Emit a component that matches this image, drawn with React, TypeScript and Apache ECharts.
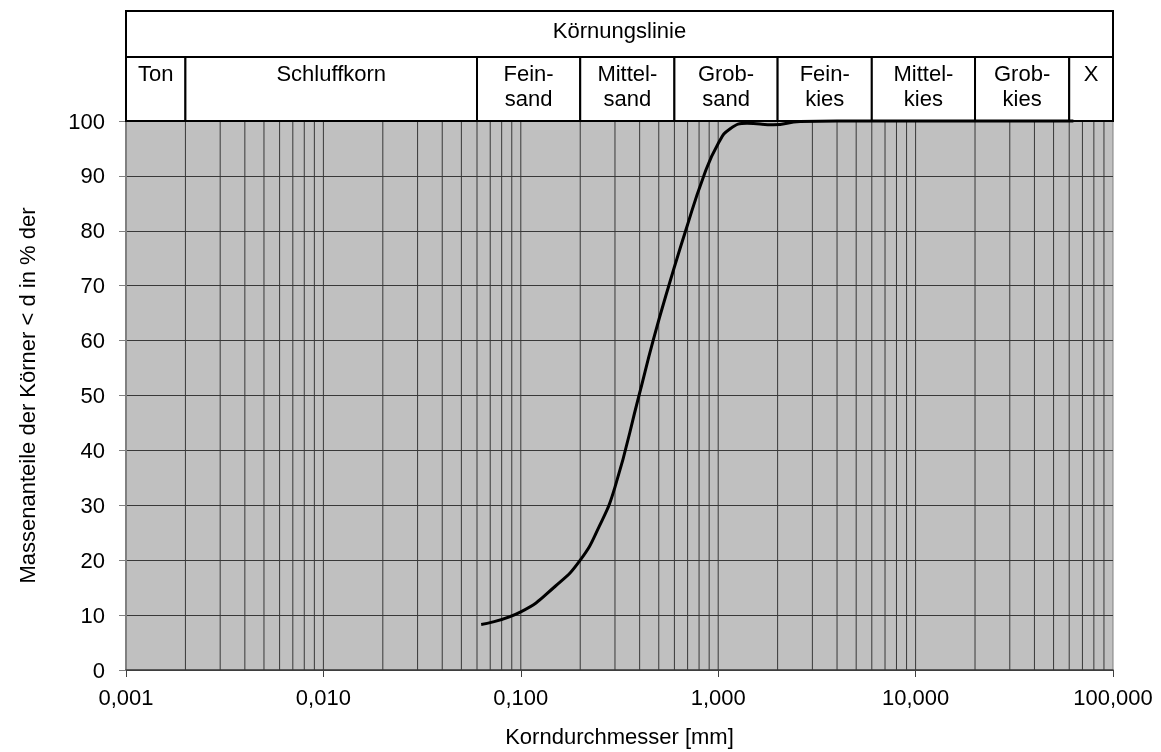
import React, { useEffect, useRef } from "react";
import * as echarts from "echarts";

// Curve: grain size d [mm] vs. percentage passing
const sieveSizes = [0.063, 0.1, 0.15, 0.2, 0.25, 0.3, 0.397, 0.468, 0.562, 0.684, 0.845, 1.0, 1.15, 1.4, 1.9, 2.6, 4, 8, 16, 31.5, 63];
const passing = [8.3, 10.6, 15.3, 20, 26.2, 33.3, 50, 60, 70, 80, 90, 95.9, 98.6, 99.6, 99.3, 99.9, 100, 100, 100, 100, 100];

// Header table
const headerTitle = "Körnungslinie";
const fractionLabels = ["Ton", "Schluffkorn", "Fein-\nsand", "Mittel-\nsand", "Grob-\nsand", "Fein-\nkies", "Mittel-\nkies", "Grob-\nkies", "X"];
const fractionBounds = [0.001, 0.002, 0.06, 0.2, 0.6, 2, 6, 20, 60, 100];

// Axes
const xMin = 0.001;
const xMax = 100;
const decades = [0.001, 0.01, 0.1, 1, 10];
const decadeMultipliers = [1, 2, 3, 4, 5, 6, 7, 8, 9];
const yMin = 0;
const yMax = 100;
const yStep = 10;

const FONT = '"Liberation Sans", Arial, sans-serif';

export default function App() {
  const ref = useRef<HTMLDivElement>(null);
  useEffect(() => {
    if (!ref.current) return;
    const chart = echarts.init(ref.current, undefined, { renderer: "svg" });

    const gridValues: number[] = [];
    decades.forEach((d) => decadeMultipliers.forEach((m) => {
      const v = d * m;
      if (v > xMin * 1.0001) gridValues.push(v);
    }));

    const headerCells: { x0: number; x1: number; y0: number; y1: number; label: string; top: boolean }[] = [];
    headerCells.push({ x0: xMin, x1: xMax, y0: 64, y1: 110, label: headerTitle, top: true });
    fractionLabels.forEach((l, i) => {
      headerCells.push({ x0: fractionBounds[i], x1: fractionBounds[i + 1], y0: 0, y1: 64, label: l, top: false });
    });

    const curve = sieveSizes.map((d, i) => [d, passing[i]]);

    chart.setOption({
      animation: false,
      textStyle: { fontFamily: FONT },
      grid: [
        {
          left: 126, right: 48, top: 121, bottom: 76,
          show: true, backgroundColor: "#c0c0c0", borderColor: "#808080", borderWidth: 1,
        },
        { left: 126, right: 48, top: 11, height: 110, show: false },
      ],
      xAxis: [
        {
          type: "log", logBase: 10, min: xMin, max: xMax, splitNumber: 5, gridIndex: 0,
          name: "Korndurchmesser [mm]", nameLocation: "middle", nameGap: 55,
          nameTextStyle: { fontSize: 22, color: "#000", fontFamily: FONT },
          axisLine: { show: true, lineStyle: { color: "#404040", width: 1.5 } },
          axisTick: { show: true, inside: false, length: 7, lineStyle: { color: "#404040" } },
          axisLabel: {
            fontSize: 22, color: "#000", margin: 16, fontFamily: FONT,
            formatter: (v: number) => v.toFixed(3).replace(".", ","),
          },
          splitLine: { show: false },
        },
        { type: "log", logBase: 10, min: xMin, max: xMax, gridIndex: 1, show: false },
      ],
      yAxis: [
        {
          type: "value", min: yMin, max: yMax, interval: yStep, gridIndex: 0,
          name: "Massenanteile der Körner < d in % der", nameLocation: "middle", nameGap: 88, nameRotate: 90,
          nameTextStyle: { fontSize: 22, color: "#000", fontFamily: FONT },
          axisLine: { show: true, lineStyle: { color: "#808080", width: 2 } },
          axisTick: { show: true, inside: false, length: 7, lineStyle: { color: "#808080" } },
          axisLabel: { fontSize: 22, color: "#000", margin: 21, fontFamily: FONT },
          splitLine: { show: true, lineStyle: { color: "#383838", width: 1 } },
        },
        { type: "value", min: 0, max: 110, gridIndex: 1, show: false },
      ],
      series: [
        {
          type: "custom",
          xAxisIndex: 0, yAxisIndex: 0, z: 1, silent: true,
          data: gridValues.map((v) => [v, yMin]),
          renderItem: (_p: any, api: any) => {
            const v = api.value(0);
            const a = api.coord([v, yMin]);
            const b = api.coord([v, yMax]);
            return {
              type: "line",
              shape: { x1: a[0], y1: a[1], x2: b[0], y2: b[1] },
              style: { stroke: "#383838", lineWidth: 1 },
            };
          },
        },
        {
          type: "line",
          xAxisIndex: 0, yAxisIndex: 0, z: 5,
          data: curve,
          smooth: 0.5,
          showSymbol: false,
          symbol: "none",
          clip: false,
          lineStyle: { color: "#000", width: 3 },
        },
        {
          type: "custom",
          xAxisIndex: 1, yAxisIndex: 1, z: 4, silent: true,
          data: headerCells.map((c) => [c.x0, c.x1, c.y0, c.y1]),
          encode: { x: [0, 1], y: [2, 3] },
          renderItem: (p: any, api: any) => {
            const c = headerCells[p.dataIndex];
            const tl = api.coord([api.value(0), api.value(3)]);
            const br = api.coord([api.value(1), api.value(2)]);
            const cx = (tl[0] + br[0]) / 2;
            return {
              type: "group",
              children: [
                {
                  type: "rect",
                  shape: { x: tl[0], y: tl[1], width: br[0] - tl[0], height: br[1] - tl[1] },
                  style: { fill: "#fff", stroke: "#000", lineWidth: 2 },
                },
                {
                  type: "text",
                  x: cx,
                  y: c.top ? (tl[1] + br[1]) / 2 - 4 : tl[1] + 4,
                  style: {
                    text: c.label, fill: "#000", fontSize: 22, fontFamily: FONT,
                    align: "center", verticalAlign: c.top ? "middle" : "top", lineHeight: 25,
                  },
                },
              ],
            };
          },
        },
      ],
    });
    return () => chart.dispose();
  }, []);
  return <div ref={ref} style={{ position: "fixed", left: 0, top: 0, width: 1161, height: 752 }} />;
}
